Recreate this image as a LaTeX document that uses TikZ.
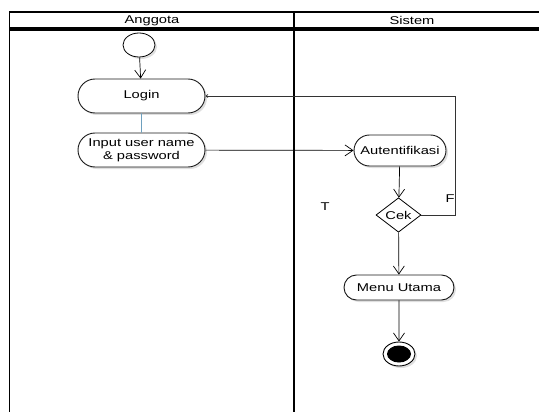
\documentclass[tikz,border=0pt]{standalone}
\usepackage{fontspec}
\newfontfamily\umlfont[FakeStretch=1.3]{Liberation Sans}
\usepackage{tikz}
\usetikzlibrary{arrows.meta,shapes.geometric,shapes.misc,shadows,positioning}
\begin{document}
\begin{tikzpicture}
	[x=1pt,y=-1pt,
	aksi/.style={rounded rectangle,draw=black!90,line width=0.9pt,fill=white,
		font=\umlfont\fontsize{11.3}{13}\selectfont,align=center,inner sep=1pt,
		drop shadow={opacity=0.25,shadow xshift=2pt,shadow yshift=-2pt}},
	keputusan/.style={diamond,draw=black,line width=0.8pt,fill=white,
		font=\umlfont\fontsize{11.3}{13}\selectfont,inner sep=0pt,
		minimum width=45pt,minimum height=34pt},
	alur/.style={line width=0.7pt,-{Straight Barb[length=8pt,width=11pt]}},
	label1/.style={font=\umlfont\fontsize{11.3}{13}\selectfont}]
	\useasboundingbox (0,0) rectangle (539,412);
	% swimlane
	\draw[line width=1.3pt] (9.5,412) -- (9.5,12) -- (539,12);
	\draw[line width=3.5pt] (9.5,29) -- (539,29);
	\draw[line width=2.2pt] (294,12) -- (294,412);
	\node[label1] (anggota) at (152,20.5) {Anggota};
	\node[label1] (sistem) at (412,20.5) {Sistem};
	% node aktivitas
	\node[ellipse,draw,line width=0.8pt,fill=white,minimum width=32pt,minimum height=24pt,
		drop shadow={opacity=0.25,shadow xshift=2pt,shadow yshift=-2pt}] (mulai) at (139,45) {};
	\node[aksi,minimum width=129pt,minimum height=34pt] (login) at (141.5,96) {Login};
	\node[aksi,minimum width=129pt,minimum height=34pt] (input) at (141.5,150) {Input user name\\\& password};
	\node[aksi,minimum width=94pt,minimum height=31pt] (auth) at (400,150.5) {Autentifikasi};
	\node[keputusan] (cek) at (398.5,215) {Cek};
	\node[aksi,minimum width=112pt,minimum height=25pt] (menu) at (399,287.5) {Menu Utama};
	\node[ellipse,draw,line width=0.9pt,fill=white,minimum width=32pt,minimum height=24pt,
		drop shadow={opacity=0.25,shadow xshift=2pt,shadow yshift=-2pt}] (selesai) at (399,354) {};
	\node[ellipse,fill=black,minimum width=24pt,minimum height=17pt] (titik) at (selesai) {};
	% alur
	\draw[alur] (mulai) -- (login);
	\draw[line width=0.7pt,draw={rgb,255:red,110;green,160;blue,190}] (login) -- (input);
	\draw[alur] (input) -- (auth);
	\draw[alur] (auth) -- (cek);
	\draw[alur] (cek) -- (menu);
	\draw[alur] (menu) -- (selesai);
	\coordinate (balik) at (455,96);
	\draw[line width=0.7pt,black!80,-{Straight Barb[length=2pt,width=3pt]}] (cek.east) -| (balik) -- (login.east);
	% label
	\node[label1] (t) at (325,207) {T};
	\node[label1] (f) at (450,199) {F};
\end{tikzpicture}
\end{document}
